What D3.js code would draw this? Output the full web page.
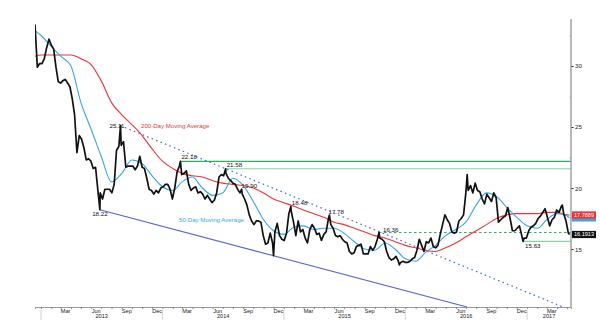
<!DOCTYPE html>
<html>
<head>
<meta charset="utf-8">
<script src="https://cdn.jsdelivr.net/npm/d3@7"></script>
<style>
  body { margin: 0; background: #fff; }
  svg { display: block; font-family: "Liberation Sans", Arial, sans-serif; }
</style>
</head>
<body>
<svg id="chart" width="600" height="330"></svg>
<script>
// ---- Silver (XAG/USD) weekly Friday closes, by year ----
const close2012 = [29.9, 30.2];                       // Dec 21, Dec 28
const close2013 = [30.2, 30.6, 31.5, 32.2, 31.7, 31.4, 29.9, 28.7, 28.6, 28.8, 28.9, 28.6, 28.3,
                   27.3, 26.0, 22.9, 24.3, 24.0, 23.3, 22.3, 22.4, 22.2, 21.6, 21.7, 19.8, 19.6,
                   19.1, 19.9, 19.9, 19.9, 19.6, 20.3, 23.1, 23.4, 23.5, 23.8, 21.7, 21.8, 21.8,
                   21.8, 21.5, 21.8, 22.6, 21.7, 21.6, 20.8, 19.9, 19.8, 19.5, 19.8, 19.6, 20.0];
const close2014 = [20.1, 20.3, 20.3, 19.9, 19.1, 20.0, 21.3, 21.8, 21.1, 21.2, 21.4, 20.3, 19.8,
                   20.0, 20.1, 19.6, 19.7, 19.5, 19.1, 19.4, 19.1, 18.8, 19.0, 19.6, 20.9, 21.1,
                   21.0, 21.2, 20.8, 20.6, 20.4, 20.3, 19.9, 19.6, 19.5, 19.1, 18.6, 17.8, 17.3,
                   17.0, 17.3, 17.3, 17.2, 16.1, 15.4, 15.5, 16.3, 15.5, 16.4, 17.1, 16.1, 15.8];
const close2015 = [15.7, 16.3, 17.9, 18.1, 17.2, 16.1, 17.3, 16.4, 16.6, 15.9, 15.5, 16.6, 17.0,
                   16.7, 16.2, 16.3, 15.7, 16.2, 16.4, 17.5, 17.0, 16.7, 16.1, 16.0, 16.1, 15.8,
                   15.6, 15.5, 14.8, 14.6, 14.7, 15.2, 15.3, 15.4, 14.6, 14.6, 14.6, 15.2, 14.9,
                   15.2, 15.8, 15.9, 15.8, 15.6, 14.8, 14.3, 14.1, 14.2, 14.4, 14.0, 13.9, 14.0];
const close2016 = [13.9, 13.9, 14.0, 14.2, 14.3, 14.9, 15.8, 15.3, 14.8, 15.6, 15.5, 15.9, 15.2,
                   15.1, 15.3, 16.2, 17.0, 17.8, 17.4, 17.1, 16.4, 16.3, 16.4, 17.3, 17.5, 17.8,
                   19.6, 19.8, 20.2, 19.6, 20.4, 19.8, 19.7, 19.1, 18.7, 19.5, 19.2, 18.9, 19.6,
                   19.2, 17.2, 17.4, 17.6, 17.7, 18.4, 17.5, 16.5, 16.5, 16.7, 16.9, 16.1, 15.9, 15.9];
const close2017 = [16.5, 16.8, 16.9, 17.1, 17.5, 17.7, 18.0, 18.3, 17.6, 16.9, 17.4, 17.6, 18.2,
                   18.0, 18.5, 17.9, 17.3, 16.3];

// ---- Daily extremes between the weekly closes ----
const swingDates  = ["2012-12-14", "2014-12-01", "2015-12-14", "2016-07-05", "2017-04-17"];
const swingValues = [33.4, 14.45, 13.7, 21.1, 18.6];

// ---- Swing highs / lows that carry a value callout ----
const calloutDates  = ["2013-06-27", "2013-08-28", "2014-02-24", "2014-07-10", "2014-08-27",
                       "2015-01-22", "2015-05-18", "2015-10-14", "2016-12-20"];
const calloutValues = [18.22, 25.11, 22.18, 21.58, 19.90, 18.48, 17.78, 16.36, 15.63];

// ---- Last print ----
const lastDate = "2017-05-09";
const lastClose = 16.1913;

// ---- Moving averages: mid-Dec 2012, then the 1st of each month Jan 2013 – May 2017, then last day ----
const ma200 = [30.8,
  30.9, 30.9, 30.9, 30.9, 30.6, 30.1, 28.8, 27.0, 26.0, 25.2, 24.3, 23.2,
  22.2, 21.6, 21.2, 21.0, 20.9, 20.6, 20.4, 20.3, 20.2, 20.0, 19.6, 19.1,
  18.8, 18.5, 18.2, 17.9, 17.6, 17.2, 17.0, 16.7, 16.4, 16.1, 15.9, 15.6,
  15.3, 15.1, 14.9, 14.8, 15.1, 15.5, 16.0, 16.5, 17.0, 17.5, 17.8, 17.9,
  17.9, 17.9, 18.0, 18.0, 17.8,
  17.7889];
const ma50 = [32.9,
  32.5, 31.6, 30.8, 30.0, 27.0, 24.8, 22.6, 20.5, 21.2, 22.3, 22.0, 21.0,
  20.1, 19.8, 20.5, 20.9, 20.0, 19.4, 19.6, 20.8, 20.2, 18.9, 17.4, 16.5,
  16.2, 16.8, 16.9, 16.6, 16.7, 16.7, 16.3, 15.6, 15.0, 14.9, 15.5, 15.0,
  14.2, 14.0, 14.7, 15.3, 16.1, 16.6, 17.2, 18.6, 19.6, 19.3, 18.4, 17.6,
  16.9, 16.7, 17.4, 17.9, 17.7,
  17.55];

// ---- Axis ----
const yMajorTicks = [15, 20, 25, 30];
const yMinorTicks = [12.5, 17.5, 22.5, 27.5, 32.5];
const monthLabelNames = ["Mar", "Jun", "Sep", "Dec"];
const years = [2013, 2014, 2015, 2016, 2017];

// ---------------------------------------------------------------
const parse = d3.timeParse("%Y-%m-%d");
const svg = d3.select("#chart");

const plot = { left: 35, right: 571, top: 19, bottom: 307 };
const xStart = parse("2012-12-14"), xEnd = parse("2017-05-13");
const x = d3.scaleTime().domain([xStart, xEnd]).range([plot.left, plot.right]);
const y = d3.scaleLinear().domain([10.25, 33.85]).range([plot.bottom, plot.top]);

// weekly closes on consecutive Fridays starting from a given Friday
function weekly(firstFriday, values) {
  return values.map((v, i) => ({ date: d3.timeFriday.offset(firstFriday, i), value: v }));
}
const firstFri = yr => d3.timeFriday.ceil(new Date(yr, 0, 1));

let series = [].concat(
  weekly(parse("2012-12-21"), close2012),
  weekly(firstFri(2013), close2013),
  weekly(firstFri(2014), close2014),
  weekly(firstFri(2015), close2015),
  weekly(firstFri(2016), close2016),
  weekly(firstFri(2017), close2017),
  swingDates.map((d, i) => ({ date: parse(d), value: swingValues[i] })),
  calloutDates.map((d, i) => ({ date: parse(d), value: calloutValues[i] })),
  [{ date: parse(lastDate), value: lastClose }]
);
series.sort((a, b) => a.date - b.date);

const maDates = [xStart].concat(d3.timeMonth.range(new Date(2013, 0, 1), new Date(2017, 4, 2)), [parse(lastDate)]);
const ma200Pts = maDates.map((d, i) => ({ date: d, value: ma200[i] }));
const ma50Pts = maDates.map((d, i) => ({ date: d, value: ma50[i] }));

const colors = {
  price: "#111",
  ma200: "#ee3338",
  ma50: "#35a8e0",
  trendDotted: "#4a6fd4",
  trendSolid: "#5566cc",
  green: "#2fae62",
  greenLight: "#86d3a6",
  axis: "#9a9a9a"
};

svg.append("defs").append("clipPath").attr("id", "plotClip")
  .append("rect").attr("x", plot.left).attr("y", plot.top)
  .attr("width", plot.right - plot.left).attr("height", plot.bottom - plot.top);

const g = svg.append("g").attr("clip-path", "url(#plotClip)");

// ---- Horizontal support / resistance levels ----
const pt = (i) => ({ x: x(parse(calloutDates[i])), y: y(calloutValues[i]) });
function level(i, color, width, dash) {
  g.append("line")
    .attr("x1", pt(i).x).attr("x2", plot.right)
    .attr("y1", pt(i).y).attr("y2", pt(i).y)
    .attr("stroke", color).attr("stroke-width", width)
    .attr("stroke-dasharray", dash || null);
}
level(2, colors.green, 1.3);            // 22.18
level(3, colors.greenLight, 1.2);       // 21.58
level(7, colors.green, 1.1, "2.5,2.5"); // 16.36
level(8, colors.greenLight, 1.2);       // 15.63

// ---- Trendlines ----
// falling resistance through the 25.11 and 21.58 highs
{
  const a = pt(1), b = pt(3);
  const slope = (b.y - a.y) / (b.x - a.x);
  g.append("line")
    .attr("x1", a.x).attr("y1", a.y)
    .attr("x2", plot.right).attr("y2", a.y + slope * (plot.right - a.x))
    .attr("stroke", colors.trendDotted).attr("stroke-width", 1.2)
    .attr("stroke-dasharray", "1.6,3.2");
}
// falling support through the 18.22 low and the Dec-2014 low
{
  const a = pt(0);
  const b = { x: x(parse(swingDates[1])), y: y(swingValues[1]) };
  const slope = (b.y - a.y) / (b.x - a.x);
  const xEndLine = a.x + (plot.bottom - a.y) / slope;
  g.append("line")
    .attr("x1", a.x).attr("y1", a.y)
    .attr("x2", xEndLine).attr("y2", plot.bottom)
    .attr("stroke", colors.trendSolid).attr("stroke-width", 1.1);
}

// ---- Moving averages ----
const maLine = d3.line().x(d => x(d.date)).y(d => y(d.value)).curve(d3.curveMonotoneX);
g.append("path").datum(ma200Pts).attr("d", maLine)
  .attr("fill", "none").attr("stroke", colors.ma200).attr("stroke-width", 1.1);
g.append("path").datum(ma50Pts).attr("d", maLine)
  .attr("fill", "none").attr("stroke", colors.ma50).attr("stroke-width", 1.1);

// ---- Price ----
const priceLine = d3.line().x(d => x(d.date)).y(d => y(d.value));
g.append("path").datum(series).attr("d", priceLine)
  .attr("fill", "none").attr("stroke", colors.price).attr("stroke-width", 1.7)
  .attr("stroke-linejoin", "round");

// ---- Callout labels ----
const fmt = d3.format(".2f");
const calloutPlacement = {
  "18.22": { anchor: "middle", dx: 0, dy: 6.5 },
  "25.11": { anchor: "end", dx: 4, dy: 2.5 },
  "22.18": { anchor: "start", dx: 1, dy: -2.5 },
  "21.58": { anchor: "start", dx: 1, dy: -1.5 },
  "19.90": { anchor: "start", dx: 0, dy: -1 },
  "18.48": { anchor: "start", dx: 1, dy: -1.5 },
  "17.78": { anchor: "start", dx: -1, dy: -1.5 },
  "16.36": { anchor: "start", dx: 4, dy: 0 },
  "15.63": { anchor: "start", dx: 2, dy: 6.5 }
};
calloutValues.forEach((v, i) => {
  const label = fmt(v), p = pt(i), place = calloutPlacement[label];
  svg.append("text")
    .attr("x", p.x + place.dx).attr("y", p.y + place.dy)
    .attr("text-anchor", place.anchor)
    .attr("font-size", 6.2).attr("fill", "#111")
    .text(label);
});

// ---- Moving-average captions ----
svg.append("text").attr("x", 141).attr("y", 127.5)
  .attr("font-size", 6.1).attr("fill", colors.ma200).text("200-Day Moving Average");
svg.append("text").attr("x", 179).attr("y", 221.5)
  .attr("font-size", 6.1).attr("fill", colors.ma50).text("50-Day Moving Average");

// ---- Right value axis ----
const yAxis = svg.append("g").attr("transform", `translate(${plot.right},0)`)
  .call(d3.axisRight(y).tickValues(yMajorTicks).tickSize(2.5).tickPadding(1.5).tickFormat(d3.format("d")));
yAxis.select(".domain").remove();
yAxis.selectAll(".tick line").attr("stroke", "#222");
yAxis.selectAll(".tick text").attr("font-size", 6.2).attr("fill", "#222")
  .attr("font-family", "Liberation Sans, Arial, sans-serif");
const yMinor = svg.append("g").attr("transform", `translate(${plot.right},0)`)
  .call(d3.axisLeft(y).tickValues(yMinorTicks).tickSize(1.5).tickFormat(""));
yMinor.select(".domain").remove();
yMinor.selectAll(".tick line").attr("stroke", "#bbb");
svg.append("line").attr("x1", plot.right).attr("x2", plot.right)
  .attr("y1", plot.top).attr("y2", plot.bottom)
  .attr("stroke", colors.axis).attr("stroke-width", 1.4);

// ---- Bottom time axis ----
const xAxis = svg.append("g").attr("transform", `translate(0,${plot.bottom})`)
  .call(d3.axisBottom(x).ticks(d3.timeMonth.every(1)).tickSize(2).tickFormat(""));
xAxis.select(".domain").attr("stroke", colors.axis).attr("stroke-width", 1);
xAxis.selectAll(".tick line").attr("stroke", "#888");

// month names, centred on mid-month
const labelMonths = d3.timeMonth.range(xStart, xEnd)
  .filter(d => monthLabelNames.includes(d3.timeFormat("%b")(d)));
svg.append("g").selectAll("text").data(labelMonths).join("text")
  .attr("x", d => x(d3.timeDay.offset(d, 15)))
  .attr("y", 312.8)
  .attr("text-anchor", "middle").attr("font-size", 5.6).attr("fill", "#222")
  .text(d => d3.timeFormat("%b")(d));

// year separators and year names centred on the visible part of each year
years.forEach(yr => {
  const a = new Date(yr, 0, 1), b = new Date(yr + 1, 0, 1);
  svg.append("line").attr("x1", x(a)).attr("x2", x(a))
    .attr("y1", 310).attr("y2", 320).attr("stroke", "#c8c8c8").attr("stroke-width", 0.8);
  const cx = (x(a) + Math.min(x(b), plot.right)) / 2;
  svg.append("text").attr("x", cx).attr("y", 318.3)
    .attr("text-anchor", "middle").attr("font-size", 5.6).attr("fill", "#222")
    .text(yr);
});

// ---- Last-value tags on the value axis ----
function valueTag(v, fill, label) {
  const yy = y(v);
  const tag = svg.append("g");
  tag.append("rect").attr("x", plot.right + 1).attr("y", yy - 3.6)
    .attr("width", 24).attr("height", 7.2).attr("fill", fill);
  if (label) {
    tag.append("text").attr("x", plot.right + 13).attr("y", yy + 2)
      .attr("text-anchor", "middle").attr("font-size", 5.6).attr("fill", "#fff")
      .text(label);
  }
}
// the 50-day tag sits just under the 200-day tag, only its lower edge showing
valueTag(ma50[ma50.length - 1], colors.ma50, null);
valueTag(ma200[ma200.length - 1], colors.ma200, d3.format(".4f")(ma200[ma200.length - 1]));
valueTag(lastClose, "#111", d3.format(".4f")(lastClose));
</script>
</body>
</html>
